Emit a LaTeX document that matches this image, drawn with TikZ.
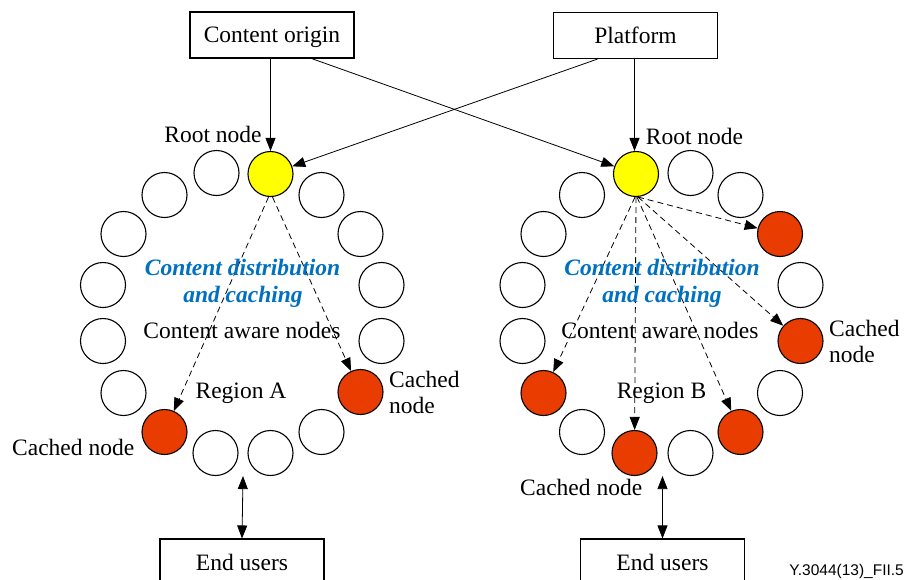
\documentclass[tikz,border=0pt]{standalone}
\usepackage{fontspec}
\setmainfont{Liberation Serif}
\newfontfamily\footfont{Liberation Sans}
\usetikzlibrary{arrows.meta,calc}
\definecolor{cyel}{HTML}{FFFF00}
\definecolor{cred}{HTML}{E83C00}
\definecolor{cblue}{HTML}{0070C0}
\begin{document}
\begin{tikzpicture}[x=1pt,y=-1pt,
  every node/.style={font=\fontsize{23.5}{25}\selectfont},
  ring/.style={circle,draw,line width=1.1pt,minimum size=45pt,inner sep=0pt},
  wn/.style={ring,fill=white},
  yn/.style={ring,fill=cyel},
  rn/.style={ring,fill=cred},
  box/.style={draw,line width=1.1pt,minimum width=164pt,minimum height=46pt,inner sep=0pt,text depth=0pt},
  arr/.style={line width=0.8pt,-{Triangle[length=13pt,width=10pt]}},
  darr/.style={arr,dash pattern=on 6pt off 4pt},
  dbl/.style={line width=0.8pt,{Triangle[length=13pt,width=10pt]}-{Triangle[length=13pt,width=10pt]}},
  lbl/.style={inner sep=0pt,anchor=base},
  lblw/.style={inner sep=0pt,anchor=base west},
  cdc/.style={lbl,text=cblue,font=\fontsize{23.5}{25}\selectfont\bfseries\itshape}
]
\useasboundingbox (0,0) rectangle (906,579);

% boxes
\node[box] (co) at (272,35) {Content origin};
\node[box] (pf) at (635.5,35.5) {Platform};
\node[box] (eul) at (242,562) {End users};
\node[box] (eur) at (662.5,562) {End users};

% left ring
\node[yn] (yl) at (270.5,174) {};
\node[wn] (l2) at (216.5,173) {};
\node[wn] (l3) at (164.5,195) {};
\node[wn] (l4) at (123.5,234) {};
\node[wn] (l5) at (103,285) {};
\node[wn] (l6) at (103,341) {};
\node[wn] (l7) at (123.5,393) {};
\node[rn] (rl1) at (164.5,432) {};
\node[wn] (bl1) at (215.5,453) {};
\node[wn] (bl2) at (270.5,453) {};
\node[wn] (l11) at (321.5,432) {};
\node[rn] (rl2) at (360.5,392) {};
\node[wn] (l13) at (381.5,341) {};
\node[wn] (l14) at (381.5,285) {};
\node[wn] (l15) at (360.5,234) {};
\node[wn] (l16) at (321.5,195) {};

% right ring
\node[yn] (yr) at (636,174) {};
\node[wn] (r2) at (690.5,173) {};
\node[wn] (r3) at (740.5,195) {};
\node[rn] (rr1) at (780,234) {};
\node[wn] (r5) at (800.5,285) {};
\node[rn] (rr2) at (800.5,341) {};
\node[wn] (r7) at (780,393) {};
\node[rn] (rr3) at (740.5,432) {};
\node[wn] (br2) at (690.5,453) {};
\node[rn] (rr4) at (634.5,453) {};
\node[wn] (r11) at (582,432) {};
\node[rn] (rr5) at (543.5,393) {};
\node[wn] (r13) at (522.5,341) {};
\node[wn] (r14) at (522.5,285) {};
\node[wn] (r15) at (543.5,234) {};
\node[wn] (r16) at (582,195) {};

% solid arrows from top boxes
\draw[arr] (yl |- co.south) -- (yl.north);
\draw[arr] ($(co.south)!0.48!(co.south east)$) -- (yr);
\draw[arr] ($(pf.south)!0.46!(pf.south west)$) -- (yl);
\draw[arr] ([xshift=-1.5pt]yr.north |- pf.south) -- ([xshift=-1.5pt]yr.north);

% dashed distribution arrows
\draw[darr] ([xshift=-2pt]yl.south) -- (rl1);
\draw[darr] ([xshift=2pt]yl.south) -- (rl2);
\draw[darr] ([xshift=2pt]yr.south) -- (rr1);
\draw[darr] ([xshift=2pt]yr.south) -- (rr2);
\draw[darr] ([xshift=1pt]yr.south) -- (rr3);
\draw[darr] (yr.south) -- (rr4);
\draw[darr] ([xshift=-1pt]yr.south) -- (rr5);

% end user links
\draw[dbl] ($(bl1.south)!0.5!(bl2.south)$) -- (eul.north);
\draw[dbl] ($(rr4.south)!0.5!(br2.south)$) -- (eur.north);

% labels
\node[lbl] (rootl) at (213,142) {Root node};
\node[lbl] (rootr) at (694.5,144.5) {Root node};
\node[cdc] (cdl1) at (242.5,275) {Content distribution};
\node[cdc] (cdl2) at (243,302) {and caching};
\node[cdc] (cdr1) at (662,275) {Content distribution};
\node[cdc] (cdr2) at (662,302) {and caching};
\node[lbl] (canl) at (242,338) {Content aware nodes};
\node[lbl] (canr) at (660,338) {Content aware nodes};
\node[lbl] (rega) at (241,398) {Region A};
\node[lbl] (regb) at (661.5,398) {Region B};
\node[lblw] (cnl) at (12,455) {Cached node};
\node[lblw] (cnm1) at (389,387) {Cached};
\node[lblw] (cnm2) at (389,413) {node};
\node[lblw] (cnr1) at (829,336) {Cached};
\node[lblw] (cnr2) at (829,362) {node};
\node[lblw] (cnb) at (520,495) {Cached node};
\node[inner sep=0pt,anchor=base east,font=\footfont\fontsize{15.5}{17}\selectfont] (fig) at (904,575) {Y.3044(13)\_FII.5};
\end{tikzpicture}
\end{document}
